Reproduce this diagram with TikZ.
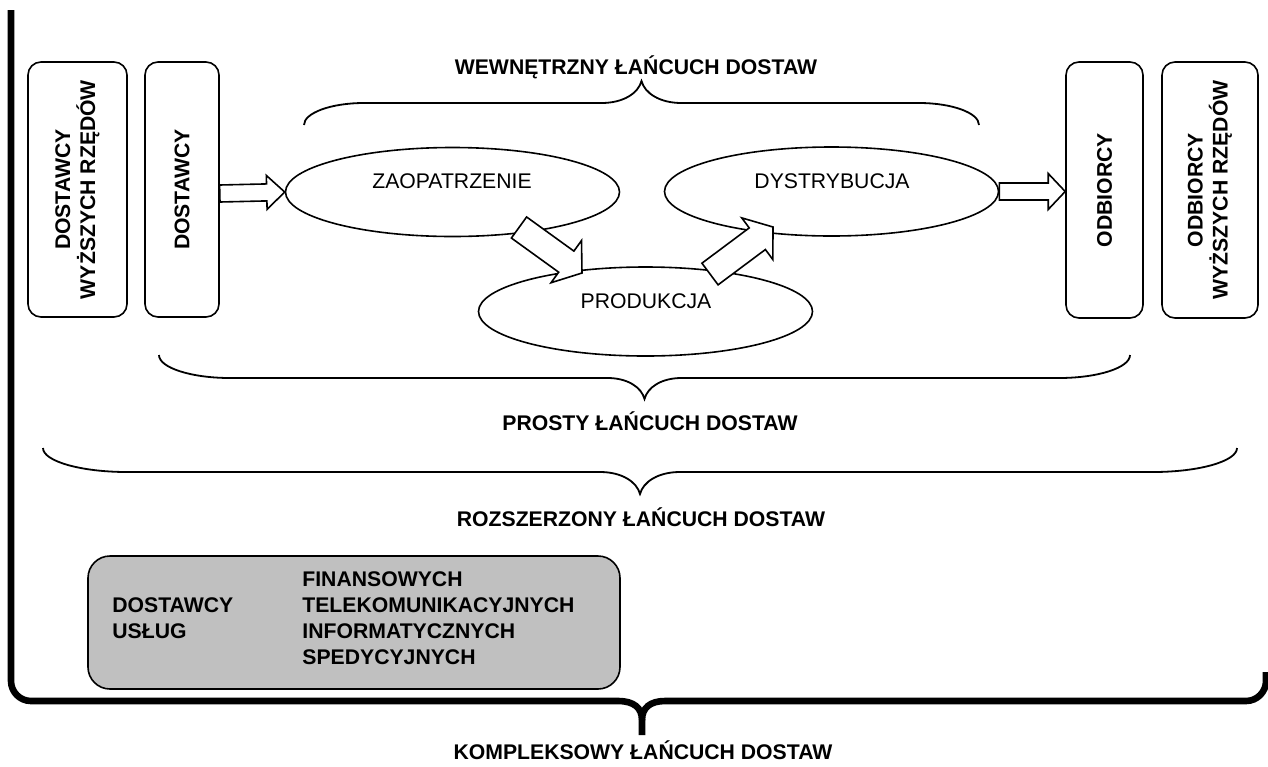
\documentclass[tikz,border=0pt]{standalone}
\usepackage{fontspec}
\setmainfont{Liberation Sans}
\usetikzlibrary{shapes.geometric,calc}
\definecolor{svcgray}{RGB}{192,192,192}
% block arrow: #1 name, #2 tail, #3 tip, #4 shaft half width, #5 head half width, #6 head length
\newcommand\blockarrow[6]{%
  \coordinate (#1-h) at ($(#3)!#6!(#2)$);
  \draw[blockarr] ($(#2)!#4!90:(#3)$) -- ($(#1-h)!#4!90:(#3)$) -- ($(#1-h)!#5!90:(#3)$)
    -- (#3) -- ($(#1-h)!#5!-90:(#3)$) -- ($(#1-h)!#4!-90:(#3)$) -- ($(#2)!#4!-90:(#3)$) -- cycle;}
% thin brace: #1 xl, #2 xr, #3 y ends, #4 y horizontal, #5 y tip, #6 hook width, #7 tip half width
\newcommand\thinbrace[7]{%
  \draw[brace] (#1,#3) .. controls (#1,{#3+0.55*(#4-#3)}) and ({#1+0.45*#6},#4) .. ({#1+#6},#4)
   -- ({(#1+#2)/2-#7},#4) .. controls ({(#1+#2)/2-0.45*#7},#4) and ({(#1+#2)/2-0.08*#7},{#4+0.45*(#5-#4)}) .. ({(#1+#2)/2},#5)
   .. controls ({(#1+#2)/2+0.08*#7},{#4+0.45*(#5-#4)}) and ({(#1+#2)/2+0.45*#7},#4) .. ({(#1+#2)/2+#7},#4)
   -- ({#2-#6},#4) .. controls ({#2-0.45*#6},#4) and (#2,{#3+0.55*(#4-#3)}) .. (#2,#3);}
\begin{document}
\begin{tikzpicture}[x=0.5pt,y=-0.5pt,
  lbl/.style={font=\fontsize{10.6}{12.5}\selectfont\bfseries, inner sep=0pt, anchor=base},
  vbox/.style={draw, line width=0.8pt, rounded corners=6.5pt, rotate=90, align=center,
    font=\fontsize{10.6}{12.5}\selectfont\bfseries, inner sep=0pt},
  proc/.style={ellipse, draw, line width=0.8pt, minimum width=167pt, minimum height=44.5pt, inner sep=0pt},
  proctext/.style={font=\fontsize{10.6}{12.5}\selectfont, inner sep=0pt, anchor=base},
  blockarr/.style={draw, fill=white, line width=0.8pt, line join=miter},
  brace/.style={line width=0.9pt},
  bigbrace/.style={line width=3.3pt},
  svcbox/.style={draw, fill=svcgray, rounded corners=11pt, line width=0.8pt,
    minimum width=266pt, minimum height=66.5pt}]
\useasboundingbox (0,0) rectangle (1268,766);

% side boxes
\node[vbox, minimum width=127.5pt, minimum height=49.5pt] (dwr) at (77.5,189.5) {DOSTAWCY\\WYŻSZYCH RZĘDÓW};
\node[vbox, minimum width=127.5pt, minimum height=37pt] (dost) at (182,189.5) {DOSTAWCY};
\node[vbox, minimum width=128pt, minimum height=38.5pt] (odb) at (1104.5,190) {ODBIORCY};
\node[vbox, minimum width=128pt, minimum height=48pt] (owr) at (1210,190) {ODBIORCY\\WYŻSZYCH RZĘDÓW};

% process ellipses
\node[proc] (zaop) at (452.5,192) {};
\node[proctext] (zaopt) at (452,188) {ZAOPATRZENIE};
\node[proc] (prod) at (645.5,311.5) {};
\node[proctext] (prodt) at (646,308) {PRODUKCJA};
\node[proc] (dyst) at (831.5,191.5) {};
\node[proctext] (dystt) at (832,188) {DYSTRYBUCJA};

% block arrows
\coordinate (a1t) at ($(dost.south)+(0,4)$);
\coordinate (a1h) at (zaop.west);
\coordinate (a2t) at (519,227.5);
\coordinate (a2h) at (582,273);
\coordinate (a3t) at (710,274);
\coordinate (a3h) at (773,227);
\coordinate (a4t) at (dyst.east);
\coordinate (a4h) at (dyst.east -| odb.north);
\blockarrow{ar1}{a1t}{a1h}{4.25pt}{8.5pt}{9pt}
\blockarrow{ar2}{a2t}{a2h}{6.5pt}{13pt}{9.7pt}
\blockarrow{ar3}{a3t}{a3h}{6.75pt}{13pt}{9.8pt}
\blockarrow{ar4}{a4t}{a4h}{4.25pt}{9pt}{8.5pt}

% thin braces and labels
\node[lbl] (wew) at (636,74) {WEWNĘTRZNY ŁAŃCUCH DOSTAW};
\thinbrace{304}{979}{125}{103}{81}{60}{40}
\thinbrace{159}{1130}{355}{378}{399}{71}{37}
\node[lbl] (pro) at (650,430) {PROSTY ŁAŃCUCH DOSTAW};
\thinbrace{43}{1237}{448}{472}{494}{84}{40}
\node[lbl] (roz) at (641,526) {ROZSZERZONY ŁAŃCUCH DOSTAW};

% service providers box
\node[svcbox] (svc) at (354,622.5) {};
\node[anchor=west, inner sep=0pt, font=\fontsize{10.6}{13}\selectfont\bfseries] (svct) at (112,620.5)
  {\begin{tabular}{@{}p{95pt}@{}l@{}}
   & FINANSOWYCH\\
   DOSTAWCY & TELEKOMUNIKACYJNYCH\\
   USŁUG & INFORMATYCZNYCH\\
   & SPEDYCYJNYCH
  \end{tabular}};

% big brace
\draw[bigbrace] (11,10) -- (11,681) .. controls (11,692) and (20,701) .. (31,701) -- (618,701)
  .. controls (634,701) and (642,708) .. (642,720) -- (642,735);
\draw[bigbrace] (1266,672) -- (1266,681) .. controls (1266,692) and (1257,701) .. (1246,701) -- (665,701)
  .. controls (650,701) and (642,708) .. (642,720);
\node[lbl] (kom) at (643,759) {KOMPLEKSOWY ŁAŃCUCH DOSTAW};
\end{tikzpicture}
\end{document}
